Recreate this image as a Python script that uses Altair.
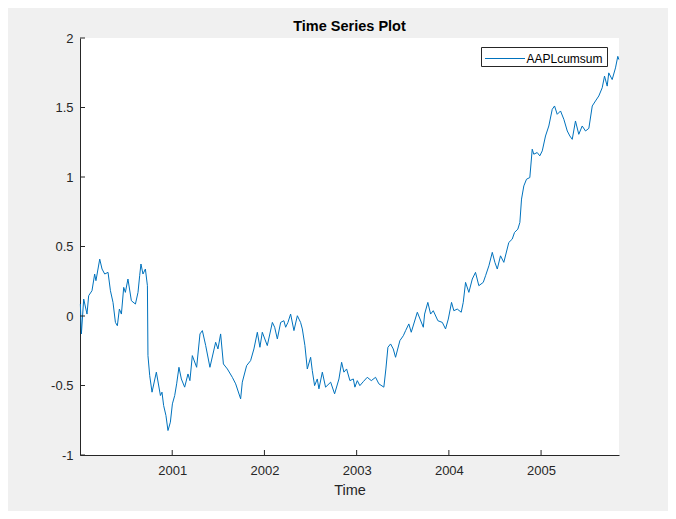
import altair as alt
import pandas as pd

# ---- data (decimal year, cumulative sum) ----
t_years = [
    2000.004, 2000.015, 2000.040, 2000.076, 2000.094, 2000.130, 2000.159, 2000.173, 2000.214, 2000.239,
    2000.268, 2000.304, 2000.330, 2000.358, 2000.384, 2000.405, 2000.427, 2000.449, 2000.474, 2000.492,
    2000.520, 2000.557, 2000.601, 2000.629, 2000.647, 2000.661, 2000.683, 2000.709, 2000.731, 2000.737,
    2000.756, 2000.781, 2000.828, 2000.872, 2000.889, 2000.907, 2000.932, 2000.954, 2000.980,
    2001.002, 2001.027, 2001.048, 2001.073, 2001.099, 2001.135, 2001.171, 2001.192, 2001.218, 2001.265,
    2001.301, 2001.327, 2001.363, 2001.409, 2001.471, 2001.496, 2001.525, 2001.555, 2001.598, 2001.652,
    2001.688, 2001.742, 2001.760, 2001.807, 2001.850, 2001.886, 2001.923, 2001.951, 2001.977,
    2002.031, 2002.086, 2002.111, 2002.140, 2002.176, 2002.211, 2002.230, 2002.255, 2002.284, 2002.320,
    2002.357, 2002.392, 2002.411, 2002.439, 2002.465, 2002.501, 2002.519, 2002.544, 2002.573, 2002.591,
    2002.628, 2002.663, 2002.718, 2002.761, 2002.808, 2002.837, 2002.862, 2002.891, 2002.927, 2002.964,
    2002.981,
    2003.007, 2003.035, 2003.075, 2003.115, 2003.159, 2003.205, 2003.241, 2003.295, 2003.317, 2003.339,
    2003.368, 2003.397, 2003.422, 2003.469, 2003.506, 2003.531, 2003.566, 2003.592, 2003.658, 2003.723,
    2003.737, 2003.772, 2003.802, 2003.831, 2003.881, 2003.929, 2003.964, 2003.994,
    2004.029, 2004.054, 2004.091, 2004.134, 2004.156, 2004.181, 2004.217, 2004.254, 2004.289, 2004.325,
    2004.373, 2004.398, 2004.434, 2004.471, 2004.499, 2004.525, 2004.560, 2004.596, 2004.650, 2004.687,
    2004.712, 2004.748, 2004.770, 2004.788, 2004.813, 2004.842, 2004.878, 2004.904, 2004.921, 2004.958,
    2004.986,
    2005.013, 2005.048, 2005.084, 2005.121, 2005.146, 2005.175, 2005.211, 2005.247, 2005.284, 2005.312,
    2005.338, 2005.373, 2005.409, 2005.446, 2005.482, 2005.518, 2005.555, 2005.590, 2005.626, 2005.663,
    2005.688, 2005.717, 2005.734, 2005.771, 2005.807, 2005.832, 2005.843,
]

aapl_cumsum = [
    0.086, -0.129, 0.122, 0.014, 0.146, 0.182, 0.302, 0.254, 0.409, 0.338,
    0.302, 0.314, 0.182, 0.098, -0.046, -0.070, 0.050, 0.014, 0.206, 0.170,
    0.266, 0.110, 0.086, 0.170, 0.290, 0.374, 0.302, 0.338, 0.218, -0.285,
    -0.429, -0.548, -0.404, -0.572, -0.548, -0.644, -0.716, -0.824, -0.764,
    -0.632, -0.572, -0.488, -0.369, -0.453, -0.512, -0.417, -0.465, -0.285, -0.369,
    -0.129, -0.105, -0.213, -0.369, -0.189, -0.237, -0.129, -0.345, -0.381, -0.441,
    -0.488, -0.596, -0.476, -0.357, -0.321, -0.237, -0.117, -0.225, -0.117,
    -0.213, -0.046, -0.081, -0.165, -0.046, -0.034, -0.081, -0.046, 0.014, -0.105,
    0.002, -0.046, -0.093, -0.213, -0.381, -0.297, -0.393, -0.501, -0.453, -0.524,
    -0.404, -0.512, -0.476, -0.560, -0.453, -0.333, -0.404, -0.381, -0.465, -0.453,
    -0.512,
    -0.465, -0.501, -0.470, -0.441, -0.465, -0.441, -0.488, -0.512, -0.381, -0.225,
    -0.201, -0.237, -0.297, -0.177, -0.142, -0.105, -0.057, -0.117, 0.027, -0.081,
    0.014, 0.098, 0.014, 0.038, -0.034, -0.046, -0.093, -0.022,
    0.098, 0.038, 0.050, 0.027, 0.098, 0.242, 0.170, 0.266, 0.314, 0.218,
    0.242, 0.290, 0.361, 0.458, 0.386, 0.338, 0.433, 0.386, 0.529, 0.553,
    0.601, 0.625, 0.673, 0.841, 0.936, 0.984, 0.996, 1.200, 1.164, 1.176,
    1.152,
    1.188, 1.295, 1.367, 1.487, 1.511, 1.451, 1.475, 1.415, 1.331, 1.295,
    1.271, 1.403, 1.307, 1.367, 1.331, 1.350, 1.511, 1.547, 1.583, 1.642,
    1.726, 1.654, 1.749, 1.701, 1.785, 1.868, 1.845,
]

series_name = ["AAPLcumsum"]
chart_title = ["Time Series Plot"]
x_tick_years = [2001, 2002, 2003, 2004, 2005]
y_tick_values = [-1, -0.5, 0, 0.5, 1, 1.5, 2]
x_domain = [2000.0, 2005.845]
y_domain = [-1, 2]

# ---- styling ----
W, H = 539, 417
AX = "#262626"
LINE = "#0072BD"
FONT = "Liberation Sans"

df = pd.DataFrame({"Time": t_years, "value": aapl_cumsum})
xscale = alt.Scale(domain=x_domain, nice=False, zero=False)
yscale = alt.Scale(domain=y_domain, nice=False, zero=False)

x_axis = alt.Axis(
    values=x_tick_years, labelExpr="datum.value + ''", title="Time",
    grid=False, ticks=False, domainColor=AX, domainWidth=1,
    labelColor=AX, labelFontSize=13, labelPadding=19, labelBaseline="alphabetic",
    labelFlush=False, titleColor=AX, titleFontSize=14.5, titleFontWeight="normal",
    titleY=39, titleBaseline="alphabetic", labelFont=FONT, titleFont=FONT,
)
y_axis = alt.Axis(
    values=y_tick_values, labelExpr="datum.value + ''", title=None,
    grid=False, ticks=False, domainColor=AX, domainWidth=1,
    labelColor=AX, labelFontSize=13, labelPadding=7, labelFlush=False,
    labelFont=FONT,
)

line = alt.Chart(df).mark_line(color=LINE, strokeWidth=1).encode(
    x=alt.X("Time:Q", scale=xscale, axis=x_axis),
    y=alt.Y("value:Q", scale=yscale, axis=y_axis),
)

# inward tick marks (MATLAB style)
xt = alt.Chart(pd.DataFrame({"Time": x_tick_years})).mark_rule(color=AX, strokeWidth=1).encode(
    x=alt.X("Time:Q", scale=xscale, axis=x_axis),
    y=alt.value(H),
    y2=alt.value(H - 5),
)
yt = alt.Chart(pd.DataFrame({"value": y_tick_values})).mark_rule(color=AX, strokeWidth=1).encode(
    y=alt.Y("value:Q", scale=yscale, axis=y_axis),
    x=alt.value(0),
    x2=alt.value(5),
)

# legend box
leg = pd.DataFrame({"series": series_name})
box = alt.Chart(leg).mark_rect(fill="white", stroke=AX, strokeWidth=1).encode(
    x=alt.value(401.5), x2=alt.value(527.5), y=alt.value(9.5), y2=alt.value(28.5)
)
sample = alt.Chart(leg).mark_rule(color=LINE, strokeWidth=1).encode(
    x=alt.value(405), x2=alt.value(445), y=alt.value(20.5)
)
label = alt.Chart(leg).mark_text(
    align="left", baseline="alphabetic", fontSize=12, color="#000000", font=FONT
).encode(x=alt.value(446.5), y=alt.value(25.3), text="series:N")

# chart title drawn as text above the plot area
title = alt.Chart(pd.DataFrame({"title": chart_title})).mark_text(
    align="center", baseline="alphabetic", fontSize=14.5, fontWeight="bold",
    color="#000000", font=FONT,
).encode(x=alt.value(W / 2), y=alt.value(-7.5), text="title:N")

chart = alt.layer(line, xt, yt, box, sample, label, title).properties(
    width=W,
    height=H,
    background="#f0f0f0",
    padding={"left": 72, "top": 30, "right": 49, "bottom": 56},
    autosize=alt.AutoSizeParams(type="none"),
).configure(font=FONT).configure_view(stroke=None, fill="white")

chart.save("out.html", embed_options={"renderer": "svg", "actions": False})
